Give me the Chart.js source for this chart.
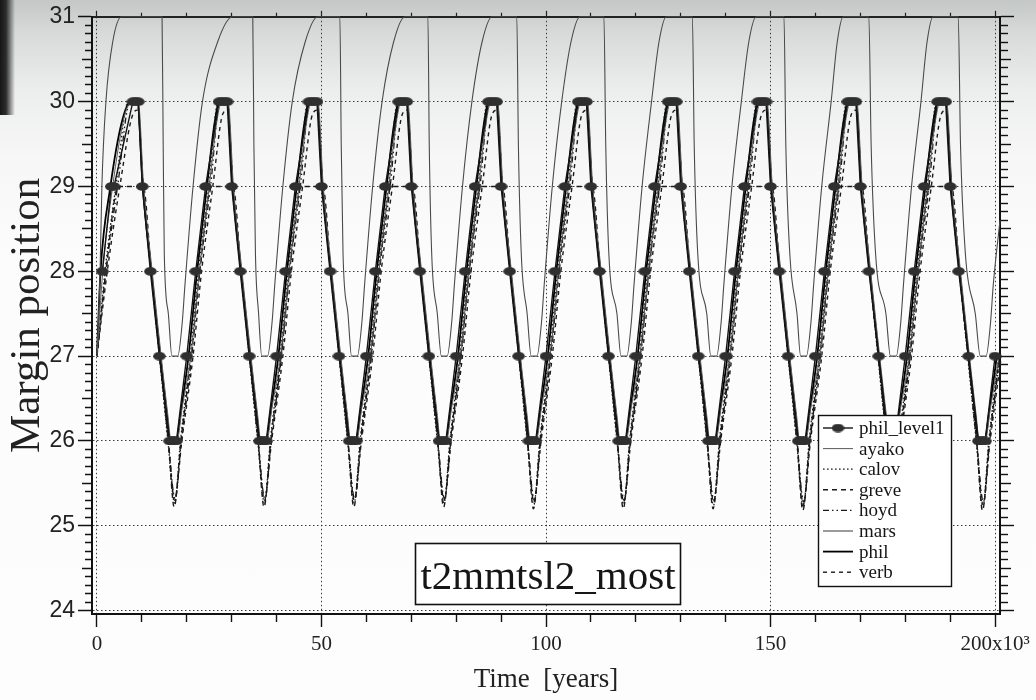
<!DOCTYPE html>
<html>
<head>
<meta charset="utf-8">
<script src="https://cdn.jsdelivr.net/npm/chart.js@4.4.1/dist/chart.umd.min.js"></script>
<style>
html,body{margin:0;padding:0;}
body{width:1036px;height:700px;overflow:hidden;background:
 linear-gradient(90deg,#161616 0,#2c2c2c 6px,rgba(60,60,60,0) 15px) no-repeat 0 0/15px 115px,
 linear-gradient(180deg,#c3c7c6 0,#d8dbda 35px,#eceeed 90px,#f7f7f7 160px,#fcfcfc 260px,#fdfdfd 100%);}
canvas{display:block;}
</style>
</head>
<body>
<canvas id="c" width="1036" height="700"></canvas>
<script>
// ---------------- data (time in 10^3 years, margin position) ----------------
const seriesNames = ['phil_level1','ayako','calov','greve','hoyd','mars','phil','verb'];
const xMajorTicks = [0,50,100,150,200];
const xTickLabels = ['0','50','100','150','200x10\u00B3'];
const yMajorTicks = [24,25,26,27,28,29,30,31];
const yTickLabels = ['24','25','26','27','28','29','30','31'];
const annotationText = 't2mmtsl2_most';

const philLevel1 = [
 [1.2,28],[3.2,29],[3.8,29],[8.0,30],[8.6,30],[9.2,30],[10.1,29],[11.9,28],[13.9,27],[16.2,26],[16.7,26],[17.2,26],[17.7,26],
 [20,27],[22,28],[24.2,29],[27.2,30],[27.8,30],[28.4,30],[29,30],[30,29],[31.9,28],[33.9,27],[36.2,26],[36.7,26],[37.2,26],[37.7,26],
 [40,27],[42,28],[44.2,29],[47.2,30],[47.8,30],[48.4,30],[49,30],[50,29],[51.9,28],[53.9,27],[56.2,26],[56.7,26],[57.2,26],[57.7,26],
 [60,27],[62,28],[64.2,29],[67.2,30],[67.8,30],[68.4,30],[69,30],[70,29],[71.9,28],[73.9,27],[76.2,26],[76.7,26],[77.2,26],[77.7,26],
 [80,27],[82,28],[84.2,29],[87.2,30],[87.8,30],[88.4,30],[89,30],[90,29],[91.9,28],[93.9,27],[96.2,26],[96.7,26],[97.2,26],[97.7,26],
 [100,27],[102,28],[104.2,29],[107.2,30],[107.8,30],[108.4,30],[109,30],[110,29],[111.9,28],[113.9,27],[116.2,26],[116.7,26],[117.2,26],[117.7,26],
 [120,27],[122,28],[124.2,29],[127.2,30],[127.8,30],[128.4,30],[129,30],[130,29],[131.9,28],[133.9,27],[136.2,26],[136.7,26],[137.2,26],[137.7,26],
 [140,27],[142,28],[144.2,29],[147.2,30],[147.8,30],[148.4,30],[149,30],[150,29],[151.9,28],[153.9,27],[156.2,26],[156.7,26],[157.2,26],[157.7,26],
 [160,27],[162,28],[164.2,29],[167.2,30],[167.8,30],[168.4,30],[169,30],[170,29],[171.9,28],[174.1,27],[176.2,26],[176.7,26],[177.2,26],[177.7,26],
 [180,27],[182,28],[184.2,29],[187.2,30],[187.8,30],[188.4,30],[189,30],[190,29],[191.9,28],[194.1,27],[196.3,26],[196.8,26],[197.3,26],[197.8,26],
 [200,27]
];

const ayako = [
 [0,27],[1.3,28],[3.5,29],[6.0,29.8],[7.8,30],[9.2,30],[10.4,29],[12.3,28],[14.3,27],[15.8,26.3],[16.5,26],[17.8,26],[19.0,26.4],
 [20.9,27],[22.8,28],[25.0,29],[26.8,29.8],[27.8,30],[29.2,30],[30.4,29],[32.3,28],[34.3,27],[35.8,26.3],[36.5,26],[37.8,26],[39.0,26.4],
 [40.9,27],[42.8,28],[45.0,29],[46.8,29.8],[47.8,30],[49.2,30],[50.4,29],[52.3,28],[54.3,27],[55.8,26.3],[56.5,26],[57.8,26],[59.0,26.4],
 [60.9,27],[62.8,28],[65.0,29],[66.8,29.8],[67.8,30],[69.2,30],[70.4,29],[72.3,28],[74.3,27],[75.8,26.3],[76.5,26],[77.8,26],[79.0,26.4],
 [80.9,27],[82.8,28],[85.0,29],[86.8,29.8],[87.8,30],[89.2,30],[90.4,29],[92.3,28],[94.3,27],[95.8,26.3],[96.5,26],[97.8,26],[99.0,26.4],
 [100.9,27],[102.8,28],[105.0,29],[106.8,29.8],[107.8,30],[109.2,30],[110.4,29],[112.3,28],[114.3,27],[115.8,26.3],[116.5,26],[117.8,26],[119.0,26.4],
 [120.9,27],[122.8,28],[125.0,29],[126.8,29.8],[127.8,30],[129.2,30],[130.4,29],[132.3,28],[134.3,27],[135.8,26.3],[136.5,26],[137.8,26],[139.0,26.4],
 [140.9,27],[142.8,28],[145.0,29],[146.8,29.8],[147.8,30],[149.2,30],[150.4,29],[152.3,28],[154.3,27],[155.8,26.3],[156.5,26],[157.8,26],[159.0,26.4],
 [160.9,27],[162.8,28],[165.0,29],[166.8,29.8],[167.8,30],[169.2,30],[170.4,29],[172.3,28],[174.3,27],[175.8,26.3],[176.5,26],[177.8,26],[179.0,26.4],
 [180.9,27],[182.8,28],[185.0,29],[186.8,29.8],[187.8,30],[189.2,30],[190.4,29],[192.3,28],[194.3,27],[195.8,26.3],[196.5,26],[197.8,26],[199.0,26.4],
 [200.9,27]
];

const calov = [
 [0,27],[1.8,28],[4.2,29],[7.0,30],[9.0,30],[10.2,29],[12.0,28],[13.9,27],[15.8,26],[17.3,25.27],[18.6,26],
 [20.8,27],[22.6,28],[24.9,29],[27.0,30],[29.0,30],[30.2,29],[32.0,28],[33.9,27],[35.8,26],[37.3,25.27],[38.6,26],
 [40.8,27],[42.6,28],[44.9,29],[47.0,30],[49.0,30],[50.2,29],[52.0,28],[53.9,27],[55.8,26],[57.3,25.27],[58.6,26],
 [60.8,27],[62.6,28],[64.9,29],[67.0,30],[69.0,30],[70.2,29],[72.0,28],[73.9,27],[75.8,26],[77.3,25.27],[78.6,26],
 [80.8,27],[82.6,28],[84.9,29],[87.0,30],[89.0,30],[90.2,29],[92.0,28],[93.9,27],[95.8,26],[97.3,25.25],[98.6,26],
 [100.8,27],[102.6,28],[104.9,29],[107.0,30],[109.0,30],[110.2,29],[112.0,28],[113.9,27],[115.8,26],[117.3,25.25],[118.6,26],
 [120.8,27],[122.6,28],[124.9,29],[127.0,30],[129.0,30],[130.2,29],[132.0,28],[133.9,27],[135.8,26],[137.3,25.24],[138.6,26],
 [140.8,27],[142.6,28],[144.9,29],[147.0,30],[149.0,30],[150.2,29],[152.0,28],[153.9,27],[155.8,26],[157.3,25.22],[158.6,26],
 [160.8,27],[162.6,28],[164.9,29],[167.0,30],[169.0,30],[170.2,29],[172.0,28],[173.9,27],[175.8,26],[177.3,25.22],[178.6,26],
 [180.8,27],[182.6,28],[184.9,29],[187.0,30],[189.0,30],[190.2,29],[192.0,28],[193.9,27],[195.8,26],[197.3,25.22],[198.6,26],
 [200.8,27]
];

const greve = [
 [0,27],[2.0,28],[4.8,29],[10.3,29],[12.1,28],[14.0,27],[15.9,26],[17.2,25.22],[18.7,26],
 [21.0,27],[22.9,28],[25.6,29],[30.3,29],[32.1,28],[34.0,27],[35.9,26],[37.2,25.22],[38.7,26],
 [41.0,27],[42.9,28],[45.6,29],[50.3,29],[52.1,28],[54.0,27],[55.9,26],[57.2,25.22],[58.7,26],
 [61.0,27],[62.9,28],[65.6,29],[70.3,29],[72.1,28],[74.0,27],[75.9,26],[77.2,25.22],[78.7,26],
 [81.0,27],[82.9,28],[85.6,29],[90.3,29],[92.1,28],[94.0,27],[95.9,26],[97.2,25.2],[98.7,26],
 [101.0,27],[102.9,28],[105.6,29],[110.3,29],[112.1,28],[114.0,27],[115.9,26],[117.2,25.2],[118.7,26],
 [121.0,27],[122.9,28],[125.6,29],[130.3,29],[132.1,28],[134.0,27],[135.9,26],[137.2,25.2],[138.7,26],
 [141.0,27],[142.9,28],[145.6,29],[150.3,29],[152.1,28],[154.0,27],[155.9,26],[157.2,25.18],[158.7,26],
 [161.0,27],[162.9,28],[165.6,29],[170.3,29],[172.1,28],[174.0,27],[175.9,26],[177.2,25.18],[178.7,26],
 [181.0,27],[182.9,28],[185.6,29],[190.3,29],[192.1,28],[194.0,27],[195.9,26],[197.2,25.18],[198.7,26],
 [201.0,27]
];

const hoyd = [
 [0,27],[2.0,28],[4.6,29],[7.4,30],[9.0,30],[10.3,29],[12.1,28],[14.0,27],[15.9,26],[17.4,25.32],[18.8,26],
 [21.1,27],[22.9,28],[25.3,29],[27.4,30],[29.0,30],[30.3,29],[32.1,28],[34.0,27],[35.9,26],[37.4,25.32],[38.8,26],
 [41.1,27],[42.9,28],[45.3,29],[47.4,30],[49.0,30],[50.3,29],[52.1,28],[54.0,27],[55.9,26],[57.4,25.32],[58.8,26],
 [61.1,27],[62.9,28],[65.3,29],[67.4,30],[69.0,30],[70.3,29],[72.1,28],[74.0,27],[75.9,26],[77.4,25.32],[78.8,26],
 [81.1,27],[82.9,28],[85.3,29],[87.4,30],[89.0,30],[90.3,29],[92.1,28],[94.0,27],[95.9,26],[97.4,25.3],[98.8,26],
 [101.1,27],[102.9,28],[105.3,29],[107.4,30],[109.0,30],[110.3,29],[112.1,28],[114.0,27],[115.9,26],[117.4,25.3],[118.8,26],
 [121.1,27],[122.9,28],[125.3,29],[127.4,30],[129.0,30],[130.3,29],[132.1,28],[134.0,27],[135.9,26],[137.4,25.3],[138.8,26],
 [141.1,27],[142.9,28],[145.3,29],[147.4,30],[149.0,30],[150.3,29],[152.1,28],[154.0,27],[155.9,26],[157.4,25.28],[158.8,26],
 [161.1,27],[162.9,28],[165.3,29],[167.4,30],[169.0,30],[170.3,29],[172.1,28],[174.0,27],[175.9,26],[177.4,25.28],[178.8,26],
 [181.1,27],[182.9,28],[185.3,29],[187.4,30],[189.0,30],[190.3,29],[192.1,28],[194.0,27],[195.9,26],[197.4,25.28],[198.8,26],
 [201.1,27]
];

const mars = [
 [0,27],[0.7,28],[1.1,29],[2.0,30],[3.5,30.7],[5.5,31],[14.5,31],[14.75,29.5],[15.0,28.2],[15.9,27.5],[16.7,27],[18,27],[19,27.4],[19.6,27.84],
 [21.4,29],[23.5,30],[26.85,30.7],[30.2,31],[34.7,31],[34.95,29.5],[35.3,28.2],[36.0,27.5],[36.7,27],[38,27],[39,27.4],[39.6,27.84],
 [41.4,29],[43.5,30],[46.35,30.7],[49.2,31],[54.1,31],[54.4,29.5],[54.8,28.2],[55.9,27.5],[56.7,27],[58,27],[59,27.4],[59.6,27.84],
 [61.4,29],[63.5,30],[66.05,30.7],[68.6,31],[73.7,31],[74.0,29.5],[74.55,28.2],[75.8,27.5],[76.7,27],[78,27],[79,27.4],[79.6,27.84],
 [81.4,29],[83.5,30],[85.75,30.7],[88.0,31],[93.5,31],[93.85,29.5],[94.5,28.2],[95.8,27.5],[96.7,27],[98,27],[99,27.4],[99.6,27.84],
 [101.4,29],[103.5,30],[105.55,30.7],[107.6,31],[112.9,31],[113.3,29.5],[114.0,28.2],[115.8,27.5],[116.7,27],[118,27],[119,27.4],[119.6,27.84],
 [121.4,29],[123.5,30],[125.15,30.7],[126.8,31],[132.6,31],[133.0,29.5],[133.8,28.2],[135.8,27.5],[136.7,27],[138,27],[139,27.4],[139.6,27.84],
 [141.4,29],[143.5,30],[145.15,30.7],[146.8,31],[153.0,31],[153.4,29.5],[154.3,28.2],[155.9,27.5],[156.7,27],[158,27],[159,27.4],[159.6,27.84],
 [161.4,29],[163.5,30],[164.85,30.7],[166.2,31],[171.9,31],[172.4,29.5],[173.4,28.2],[175.7,27.5],[176.7,27],[178,27],[179,27.4],[179.6,27.84],
 [181.4,29],[183.5,30],[184.85,30.7],[186.2,31],[191.8,31],[192.3,29.5],[193.4,28.2],[195.6,27.5],[196.7,27],[198,27],[199,27.4],[199.6,27.84],
 [201.1,28.6]
];

const phil = [
 [0,27],[0.8,28],[3.0,29],[5.5,29.75],[7.5,30],[9.0,30],[10.2,29],[12.1,28],[14.1,27],[15.6,26.3],[16.3,26],[17.6,26],[18.7,26.35],
 [20.4,27],[22.3,28],[24.5,29],[26.2,29.75],[27.3,30],[29.0,30],[30.2,29],[32.1,28],[34.1,27],[35.6,26.3],[36.3,26],[37.6,26],[38.7,26.35],
 [40.4,27],[42.3,28],[44.5,29],[46.2,29.75],[47.3,30],[49.0,30],[50.2,29],[52.1,28],[54.1,27],[55.6,26.3],[56.3,26],[57.6,26],[58.7,26.35],
 [60.4,27],[62.3,28],[64.5,29],[66.2,29.75],[67.3,30],[69.0,30],[70.2,29],[72.1,28],[74.1,27],[75.6,26.3],[76.3,26],[77.6,26],[78.7,26.35],
 [80.4,27],[82.3,28],[84.5,29],[86.2,29.75],[87.3,30],[89.0,30],[90.2,29],[92.1,28],[94.1,27],[95.6,26.3],[96.3,26],[97.6,26],[98.7,26.35],
 [100.4,27],[102.3,28],[104.5,29],[106.2,29.75],[107.3,30],[109.0,30],[110.2,29],[112.1,28],[114.1,27],[115.6,26.3],[116.3,26],[117.6,26],[118.7,26.35],
 [120.4,27],[122.3,28],[124.5,29],[126.2,29.75],[127.3,30],[129.0,30],[130.2,29],[132.1,28],[134.1,27],[135.6,26.3],[136.3,26],[137.6,26],[138.7,26.35],
 [140.4,27],[142.3,28],[144.5,29],[146.2,29.75],[147.3,30],[149.0,30],[150.2,29],[152.1,28],[154.1,27],[155.6,26.3],[156.3,26],[157.6,26],[158.7,26.35],
 [160.4,27],[162.3,28],[164.5,29],[166.2,29.75],[167.3,30],[169.0,30],[170.2,29],[172.1,28],[174.1,27],[175.6,26.3],[176.3,26],[177.6,26],[178.7,26.35],
 [180.4,27],[182.3,28],[184.5,29],[186.2,29.75],[187.3,30],[189.0,30],[190.2,29],[192.1,28],[194.1,27],[195.6,26.3],[196.3,26],[197.6,26],[198.7,26.35],
 [200.4,27]
];

const verb = [
 [0,27],[2.3,28],[5.1,29],[8.0,29.85],[9.1,29.9],[10.3,29],[12.1,28],[14.0,27],[15.9,26],[17.3,25.3],[18.9,26],
 [21.4,27],[23.3,28],[25.8,29],[28.0,29.85],[29.1,29.9],[30.3,29],[32.1,28],[34.0,27],[35.9,26],[37.3,25.3],[38.9,26],
 [41.4,27],[43.3,28],[45.8,29],[48.0,29.85],[49.1,29.9],[50.3,29],[52.1,28],[54.0,27],[55.9,26],[57.3,25.3],[58.9,26],
 [61.4,27],[63.3,28],[65.8,29],[68.0,29.85],[69.1,29.9],[70.3,29],[72.1,28],[74.0,27],[75.9,26],[77.3,25.3],[78.9,26],
 [81.4,27],[83.3,28],[85.8,29],[88.0,29.85],[89.1,29.9],[90.3,29],[92.1,28],[94.0,27],[95.9,26],[97.3,25.28],[98.9,26],
 [101.4,27],[103.3,28],[105.8,29],[108.0,29.85],[109.1,29.9],[110.3,29],[112.1,28],[114.0,27],[115.9,26],[117.3,25.28],[118.9,26],
 [121.4,27],[123.3,28],[125.8,29],[128.0,29.85],[129.1,29.9],[130.3,29],[132.1,28],[134.0,27],[135.9,26],[137.3,25.28],[138.9,26],
 [141.4,27],[143.3,28],[145.8,29],[148.0,29.85],[149.1,29.9],[150.3,29],[152.1,28],[154.0,27],[155.9,26],[157.3,25.25],[158.9,26],
 [161.4,27],[163.3,28],[165.8,29],[168.0,29.85],[169.1,29.9],[170.3,29],[172.1,28],[174.0,27],[175.9,26],[177.3,25.25],[178.9,26],
 [181.4,27],[183.3,28],[185.8,29],[188.0,29.85],[189.1,29.9],[190.3,29],[192.1,28],[194.0,27],[195.9,26],[197.3,25.25],[198.9,26],
 [201.4,27]
];

// ---------------- helpers ----------------
const xAllTicks = []; for (let v = 0; v <= 200; v += 10) xAllTicks.push(v);
const yAllTicks = []; for (let i = 240; i <= 310; i++) yAllTicks.push(i / 10);
const isMajorX = v => xMajorTicks.includes(v);
const r1 = v => Math.round(v * 10) / 10;
const isIntY = v => Math.abs(v - Math.round(v)) < 1e-6;
const isHalfY = v => Math.abs(v * 2 - Math.round(v * 2)) < 1e-6 && !isIntY(v);
function yTickLen(v, full, half, minor) { return isIntY(v) ? full : (isHalfY(v) ? half : minor); }

function makeMarker() {
  const c = document.createElement('canvas');
  c.width = 13; c.height = 9;
  const g = c.getContext('2d');
  g.fillStyle = '#2f2f2f';
  g.beginPath(); g.ellipse(6.5, 4.5, 6.3, 4.3, 0, 0, Math.PI * 2); g.fill();
  return c;
}
const marker = makeMarker();

const seriesData = [philLevel1, ayako, calov, greve, hoyd, mars, phil, verb];
const seriesStyle = [
  {borderColor:'#151515', borderWidth:1.4, borderDash:[], pointStyle:marker, pointRadius:5, cubicInterpolationMode:'default', tension:0},
  {borderColor:'#5a5a5a', borderWidth:1, borderDash:[]},
  {borderColor:'#1a1a1a', borderWidth:1.3, borderDash:[1.6,2.4]},
  {borderColor:'#1a1a1a', borderWidth:1.4, borderDash:[5,4]},
  {borderColor:'#1a1a1a', borderWidth:1.3, borderDash:[6,3,1.5,3,1.5,3]},
  {borderColor:'#4a4a4a', borderWidth:1.1, borderDash:[]},
  {borderColor:'#000000', borderWidth:1.8, borderDash:[]},
  {borderColor:'#1a1a1a', borderWidth:1.4, borderDash:[4,4]}
];

const datasets = seriesNames.map((name, i) => Object.assign({
  label: name,
  data: seriesData[i],
  fill: false,
  pointRadius: 0,
  cubicInterpolationMode: 'monotone',
  clip: 2
}, seriesStyle[i]));

// ---------------- overlay: annotation box and legend ----------------
const overlayPlugin = {
  id: 'overlay',
  afterDatasetsDraw(chart) {
    const ctx = chart.ctx;
    ctx.save();
    // annotation
    ctx.fillStyle = '#ffffff';
    ctx.fillRect(415, 543, 265, 61);
    ctx.strokeStyle = '#111'; ctx.lineWidth = 1.6;
    ctx.strokeRect(415.5, 543.5, 265, 61);
    ctx.fillStyle = '#161616';
    ctx.font = '41px "Liberation Serif"';
    ctx.textAlign = 'center'; ctx.textBaseline = 'alphabetic';
    ctx.fillText(annotationText, 548, 589);
    // legend
    const lx = 818, ly = 415, lw = 133, lh = 171;
    ctx.fillStyle = '#ffffff';
    ctx.fillRect(lx, ly, lw, lh);
    ctx.strokeStyle = '#111'; ctx.lineWidth = 1.4;
    ctx.strokeRect(lx + 0.5, ly + 0.5, lw, lh);
    chart.data.datasets.forEach((ds, i) => {
      const y = 428 + i * 20.6;
      ctx.save();
      ctx.strokeStyle = ds.borderColor; ctx.lineWidth = ds.borderWidth;
      ctx.setLineDash(ds.borderDash || []);
      ctx.beginPath(); ctx.moveTo(823, y); ctx.lineTo(853, y); ctx.stroke();
      ctx.restore();
      if (ds.pointStyle && ds.pointStyle.width) {
        ctx.drawImage(ds.pointStyle, 838 - ds.pointStyle.width / 2, y - ds.pointStyle.height / 2);
      }
      ctx.fillStyle = '#161616';
      ctx.font = '19px "Liberation Serif"';
      ctx.textAlign = 'left'; ctx.textBaseline = 'middle';
      ctx.fillText(ds.label, 859, y + 1);
    });
    ctx.restore();
  }
};

const X_MIN = -1.1, X_MAX = 201.1, Y_MIN = 23.96, Y_MAX = 31;
const gridCol = '#3c3c3c';

new Chart(document.getElementById('c'), {
  type: 'line',
  data: { datasets },
  options: {
    responsive: false,
    animation: false,
    events: [],
    layout: { padding: 0 },
    plugins: { legend: { display: false }, tooltip: { enabled: false } },
    scales: {
      x: {
        type: 'linear', position: 'bottom', min: X_MIN, max: X_MAX,
        afterBuildTicks: s => { s.ticks = xAllTicks.map(v => ({ value: v })); },
        afterFit: s => { s.height = 86; },
        ticks: {
          autoSkip: false, maxRotation: 0, minRotation: 0, padding: 5, color: '#222',
          font: { family: 'Liberation Serif', size: 21 },
          callback: v => { const i = xMajorTicks.indexOf(v); return i >= 0 ? xTickLabels[i] : ''; }
        },
        grid: {
          color: c => (c.tick && isMajorX(c.tick.value)) ? gridCol : 'rgba(0,0,0,0)',
          lineWidth: 1, tickLength: 13, tickColor: '#111', tickWidth: 1.4,
          tickBorderDash: c => (c.tick && isMajorX(c.tick.value)) ? [] : [7, 100]
        },
        border: { display: true, color: '#111', width: 2, dash: [1.5, 2.5] },
        title: { display: true, text: 'Time  [years]', color: '#222',
          font: { family: 'Liberation Serif', size: 27 }, padding: { top: 0, bottom: 4 } }
      },
      x2: {
        type: 'linear', position: 'top', min: X_MIN, max: X_MAX,
        afterBuildTicks: s => { s.ticks = xAllTicks.map(v => ({ value: v })); },
        afterFit: s => { s.height = 15; },
        ticks: { autoSkip: false, maxRotation: 0, callback: () => '' , padding: 0, font: { size: 1 } },
        grid: { drawOnChartArea: false, tickLength: 6, tickColor: '#222', tickWidth: 1.2,
          tickBorderDash: c => (c.tick && isMajorX(c.tick.value)) ? [] : [0, 2, 4, 100] },
        border: { display: true, color: '#222', width: 2 }
      },
      y: {
        type: 'linear', position: 'left', min: Y_MIN, max: Y_MAX,
        afterBuildTicks: s => { s.ticks = yAllTicks.map(v => ({ value: v })); },
        afterFit: s => { s.width = 92; },
        ticks: {
          autoSkip: false, padding: 3, color: '#222',
          font: { family: 'Liberation Sans', size: 23 },
          callback: v => { const i = yMajorTicks.indexOf(r1(v)); return (i >= 0 && isIntY(v)) ? yTickLabels[i] : ''; }
        },
        grid: {
          color: c => (c.tick && isIntY(c.tick.value) && c.tick.value < 30.5) ? gridCol : 'rgba(0,0,0,0)',
          lineWidth: 1, tickLength: 14, tickColor: '#111', tickWidth: 1.5,
          tickBorderDash: c => { if (!c.tick) return []; const L = yTickLen(c.tick.value, 14, 10, 7); return L >= 14 ? [] : [0, 14 - L, L, 100]; }
        },
        border: { display: true, color: '#111', width: 2, dash: [1.5, 2.5] },
        title: { display: true, text: 'Margin position', color: '#222',
          font: { family: 'Liberation Serif', size: 43 }, padding: { top: 2, bottom: 0 } }
      },
      y2: {
        type: 'linear', position: 'right', min: Y_MIN, max: Y_MAX,
        afterBuildTicks: s => { s.ticks = yAllTicks.map(v => ({ value: v })); },
        afterFit: s => { s.width = 36; },
        ticks: { autoSkip: false, callback: () => '', padding: 0, font: { size: 1 } },
        grid: { drawOnChartArea: false, tickLength: 14, tickColor: '#111', tickWidth: 1.4,
          tickBorderDash: c => { if (!c.tick) return []; const L = yTickLen(c.tick.value, 14, 10, 7); return [L, 100]; } },
        border: { display: true, color: '#111', width: 2 }
      }
    }
  },
  plugins: [overlayPlugin]
});
</script>
</body>
</html>
